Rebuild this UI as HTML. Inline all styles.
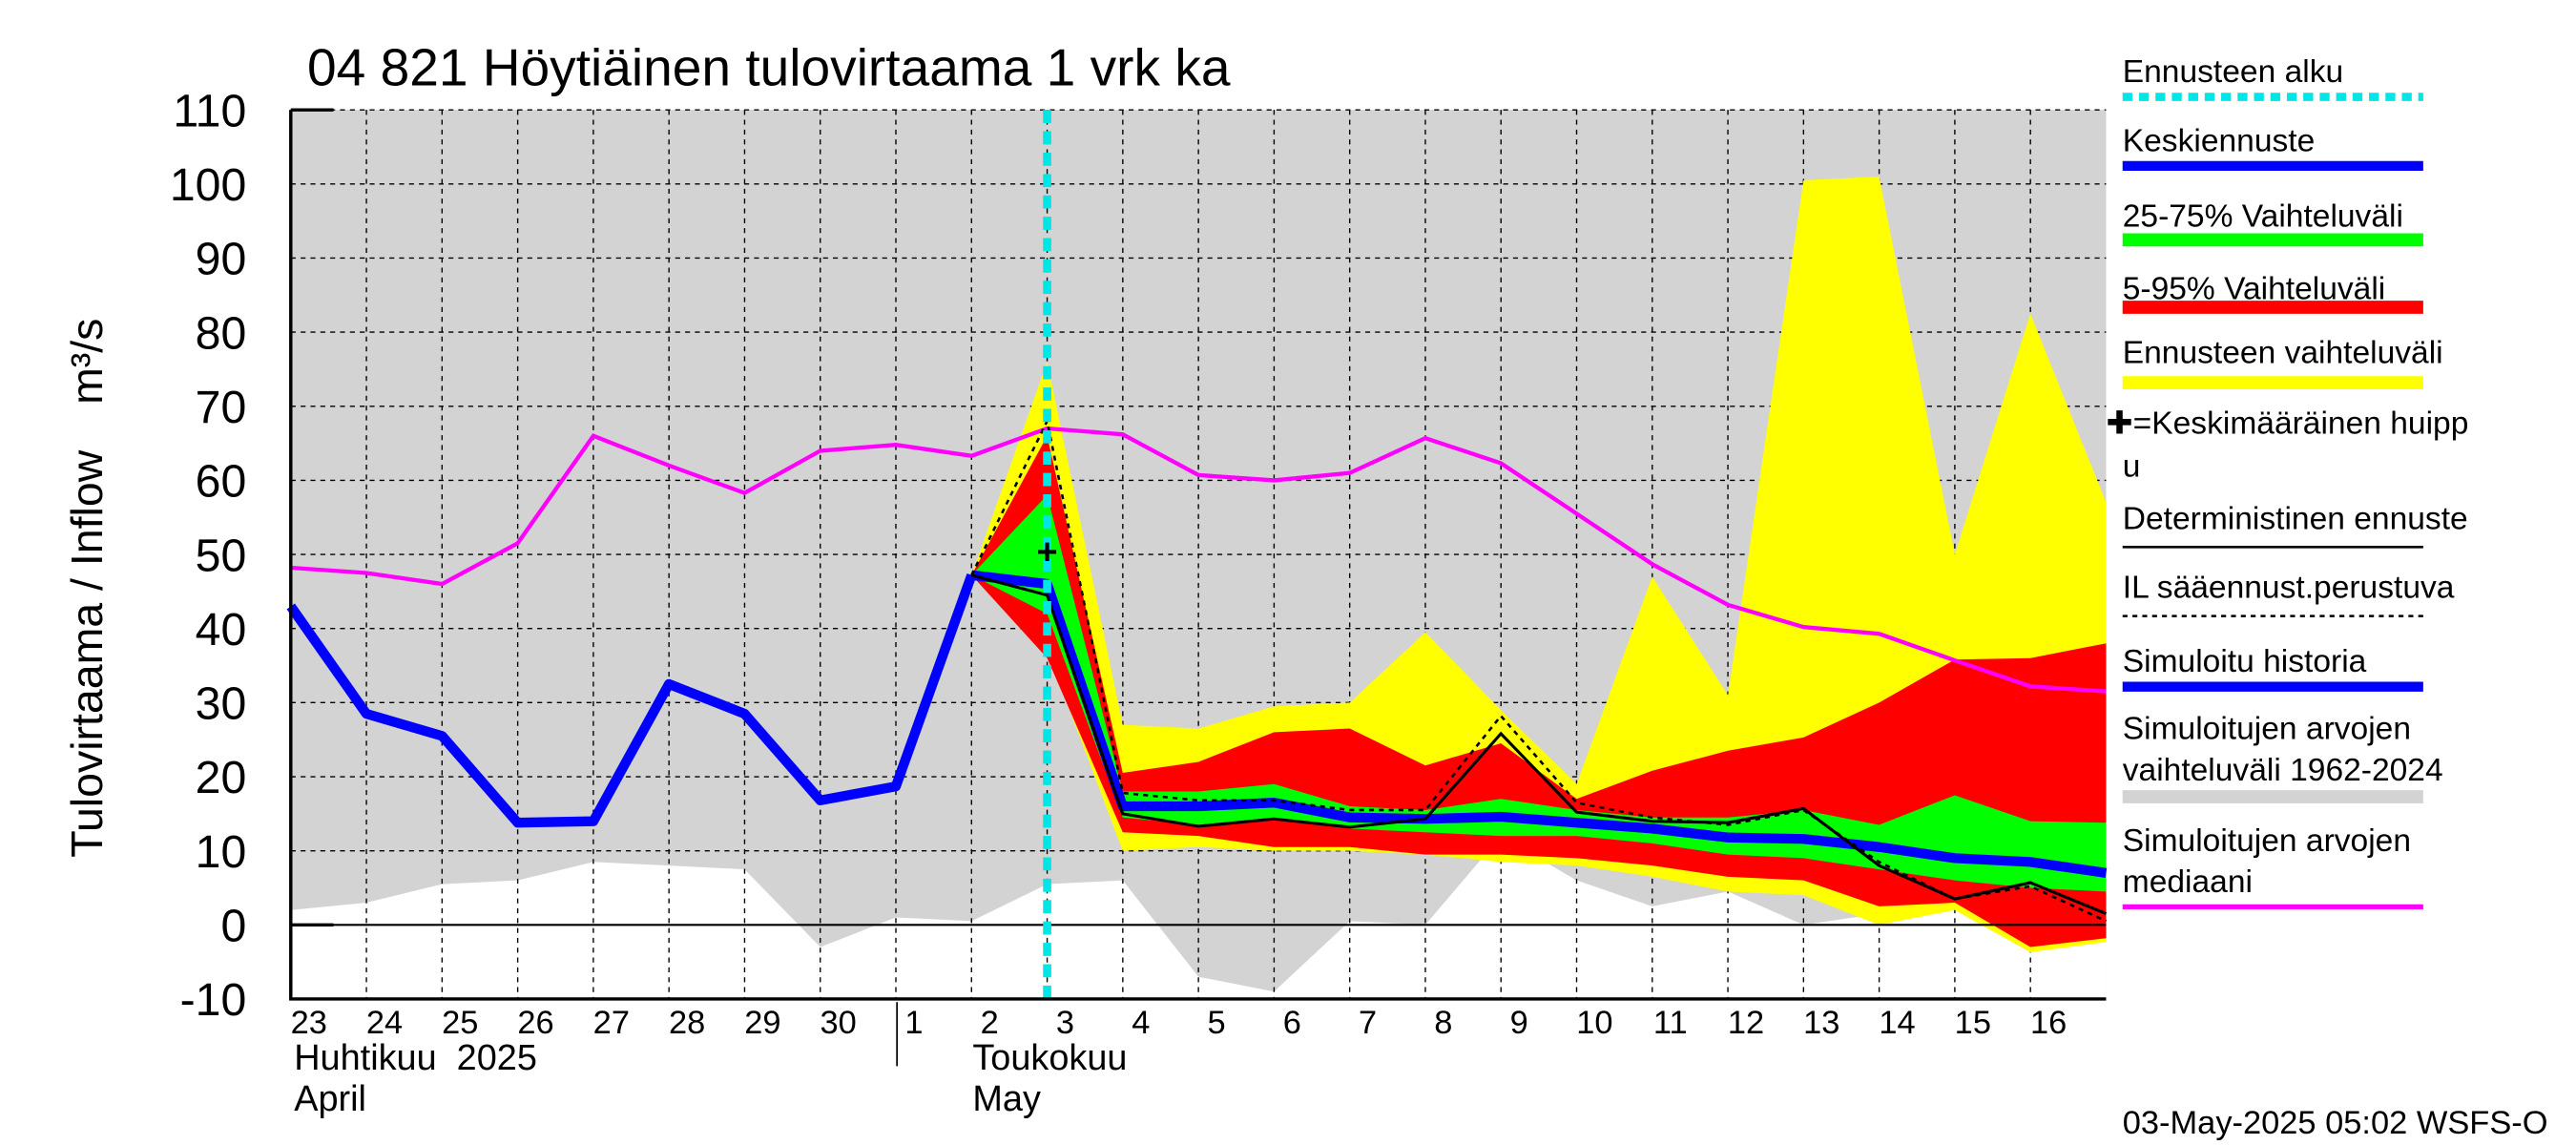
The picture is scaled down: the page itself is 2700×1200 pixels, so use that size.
<!DOCTYPE html>
<html><head><meta charset="utf-8"><style>
html,body{margin:0;padding:0;background:#fff;}
svg{display:block;font-family:"Liberation Sans",sans-serif;}
</style></head><body>
<svg id="c" width="2700" height="1200" viewBox="0 0 1568 697" preserveAspectRatio="none" xmlns="http://www.w3.org/2000/svg">
<rect x="0" y="0" width="1568" height="697" fill="#fff"/>
<g id="plot"></g>
<text x="187" y="52" font-size="32">04 821 Höytiäinen tulovirtaama 1 vrk ka</text>
<text transform="translate(62,398) rotate(-90)" text-anchor="middle" font-size="27">Tulovirtaama / Inflow</text>
<text transform="translate(62,220) rotate(-90)" text-anchor="middle" font-size="27">m³/s</text>
<text x="179" y="651" font-size="22" xml:space="preserve">Huhtikuu  2025</text>
<text x="179" y="676" font-size="22">April</text>
<text x="592" y="651" font-size="22">Toukokuu</text>
<text x="592" y="676" font-size="22">May</text>
<line x1="546" y1="610" x2="546" y2="649" stroke="#000" stroke-width="1"/>
<text x="1292" y="690" font-size="20">03-May-2025 05:02 WSFS-O</text>
<g id="legend" font-size="19.5">
<text x="1292" y="50">Ennusteen alku</text>
<line x1="1292" y1="59" x2="1475" y2="59" stroke="#00e5e5" stroke-width="5" stroke-dasharray="6,4"/>
<text x="1292" y="92">Keskiennuste</text>
<line x1="1292" y1="101" x2="1475" y2="101" stroke="#0000ff" stroke-width="6"/>
<text x="1292" y="138">25-75% Vaihteluväli</text>
<line x1="1292" y1="146" x2="1475" y2="146" stroke="#00ff00" stroke-width="8"/>
<text x="1292" y="182">5-95% Vaihteluväli</text>
<line x1="1292" y1="187" x2="1475" y2="187" stroke="#ff0000" stroke-width="8"/>
<text x="1292" y="221">Ennusteen vaihteluväli</text>
<line x1="1292" y1="233" x2="1475" y2="233" stroke="#ffff00" stroke-width="8"/>
<text x="1282" y="264">✚=Keskimääräinen huipp</text>
<text x="1292" y="290">u</text>
<text x="1292" y="322">Deterministinen ennuste</text>
<line x1="1292" y1="333" x2="1475" y2="333" stroke="#000" stroke-width="1.5"/>
<text x="1292" y="364">IL sääennust.perustuva</text>
<line x1="1292" y1="375" x2="1475" y2="375" stroke="#000" stroke-width="1.5" stroke-dasharray="3,3"/>
<text x="1292" y="409">Simuloitu historia</text>
<line x1="1292" y1="418" x2="1475" y2="418" stroke="#0000ff" stroke-width="6"/>
<text x="1292" y="450">Simuloitujen arvojen</text>
<text x="1292" y="475">vaihteluväli 1962-2024</text>
<line x1="1292" y1="485" x2="1475" y2="485" stroke="#d3d3d3" stroke-width="8"/>
<text x="1292" y="518">Simuloitujen arvojen</text>
<text x="1292" y="543">mediaani</text>
<line x1="1292" y1="552" x2="1475" y2="552" stroke="#ff00ff" stroke-width="3"/>
</g>
</svg>
<script>
const dayLabels=["23","24","25","26","27","28","29","30","1","2","3","4","5","6","7","8","9","10","11","12","13","14","15","16","17"];
const yTicks=[-10,0,10,20,30,40,50,60,70,80,90,100,110];
const histLow=[2,3,5.5,6,8.5,8,7.5,-3,1,0.5,5.5,6,-7,-9,0.5,0,12,6,2.5,4.5,0,1.5,2.5,-3.5,1.5];
const median=[48.2,47.5,46,51.5,66,62,58.3,64,64.8,63.3,67,66.2,60.7,60,61,65.7,62.3,55.5,48.7,43.2,40.2,39.3,35.7,32.2,31.5];
const simHistory=[43,28.5,25.5,13.8,14,32.5,28.5,16.8,18.7,47.2];
const fcStart=9;
const meanFc=[47.2,46,16,16,16.5,14.5,14.3,14.6,13.8,13,11.8,11.6,10.5,9,8.5,7];
const yelHi=[47.2,76,27,26.5,29.5,30,39.5,29,19,47,31,100.5,101,50,82.5,57];
const yelLo=[47.2,37,10,10.5,10,10,9.5,8.5,8,6.5,4.5,4,0,2,-3.7,-2.3];
const redHi=[47.2,66,20.5,22,26,26.5,21.5,24.5,17,20.8,23.5,25.3,30,35.8,36,38];
const redLo=[47.2,36,12.5,12,10.5,10.5,9.5,9.5,9,8,6.5,6,2.5,3,-3,-1.8];
const grnHi=[47.2,58,18,18,19,16,15.5,17,15.5,14.5,14.5,15.5,13.5,17.5,14,13.8];
const grnLo=[47.2,42,14.5,13.5,14.5,13,12.5,12,12,11,9.5,9,7.5,6,5,4.5];
const determ=[47.2,44.5,15,13.3,14.3,13.2,14.3,25.8,15.2,14,13.8,15.7,8,3.5,5.7,1.5];
const ilFc=[47.2,68,17.8,16.8,16.8,15.5,15.5,28.2,16.5,14.5,13.5,15.5,8.5,3.5,5.2,0.5];
const peakDay=10, peakVal=50.5;

const X0=177,DX=46.04,Y0=563,PX=4.51;
const xs=i=>X0+i*DX, ys=v=>Y0-v*PX;
const g=document.getElementById('plot');
const NS="http://www.w3.org/2000/svg";
function mk(t,a){const e=document.createElementNS(NS,t);for(const k in a)e.setAttribute(k,a[k]);g.appendChild(e);return e;}
function pts(arr,off){return arr.map((v,i)=>xs(i+off).toFixed(1)+","+ys(v).toFixed(1)).join(" ");}
function band(hi,lo,off){return pts(hi,off)+" "+lo.map((v,i)=>[i,v]).reverse().map(([i,v])=>xs(i+off).toFixed(1)+","+ys(v).toFixed(1)).join(" ");}
const L=xs(0),R=xs(24);
let e;
e=mk('rect',{x:L,y:ys(110),width:R-L,height:ys(-10)-ys(110),fill:'#d3d3d3'});


e=mk('polygon',{points:pts(histLow,0)+` ${R},${ys(-10)} ${L},${ys(-10)}`,fill:'#fff'});


yTicks.forEach(v=>{
  const l=mk('line',{x1:L,x2:R,y1:ys(v),y2:ys(v),stroke:'#000','stroke-width':0.8,'stroke-dasharray':'3,3'});
  
  
  const t=mk('text',{x:150,y:ys(v)+10,'text-anchor':'end','font-size':28});t.textContent=v;
  
  
});
dayLabels.forEach((d,i)=>{
  if(i>0&&i<24){const l=mk('line',{x1:xs(i),x2:xs(i),y1:ys(110),y2:ys(-10),stroke:'#000','stroke-width':0.8,'stroke-dasharray':'3,3'});
  
  }
  if(i<24){const t=mk('text',{x:xs(i)+11,y:629,'text-anchor':'middle','font-size':20});t.textContent=d;
  
  }
});
e=mk('polygon',{points:band(yelHi,yelLo,fcStart),fill:'#ffff00'});


e=mk('polygon',{points:band(redHi,redLo,fcStart),fill:'#ff0000'});


e=mk('polygon',{points:band(grnHi,grnLo,fcStart),fill:'#00ff00'});


e=mk('line',{x1:L,x2:R,y1:ys(0),y2:ys(0),stroke:'#000','stroke-width':1.2});


e=mk('polyline',{points:pts(median,0),fill:'none',stroke:'#ff00ff','stroke-width':2.5});


e=mk('polyline',{points:pts(simHistory,0),fill:'none',stroke:'#0000ff','stroke-width':6,'stroke-linejoin':'round'});


e=mk('polyline',{points:pts(meanFc,fcStart),fill:'none',stroke:'#0000ff','stroke-width':6,'stroke-linejoin':'round'});


e=mk('polyline',{points:pts(ilFc,fcStart),fill:'none',stroke:'#000','stroke-width':1.5,'stroke-dasharray':'3,3'});


e=mk('polyline',{points:pts(determ,fcStart),fill:'none',stroke:'#000','stroke-width':1.8});


e=mk('line',{x1:xs(10),x2:xs(10),y1:ys(110),y2:ys(-10),stroke:'#00e5e5','stroke-width':5,'stroke-dasharray':'8,5'});


e=mk('text',{x:xs(peakDay),y:ys(peakVal)+8,'text-anchor':'middle','font-size':22,'font-weight':'bold'});e.textContent='+';


e=mk('polyline',{points:`${L},${ys(110)} ${L},${ys(-10)} ${R},${ys(-10)}`,fill:'none',stroke:'#000','stroke-width':2});


[110,0].forEach(v=>{const t=mk('line',{x1:L,x2:L+26,y1:ys(v),y2:ys(v),stroke:'#000','stroke-width':2});

});
</script>
</body></html>
